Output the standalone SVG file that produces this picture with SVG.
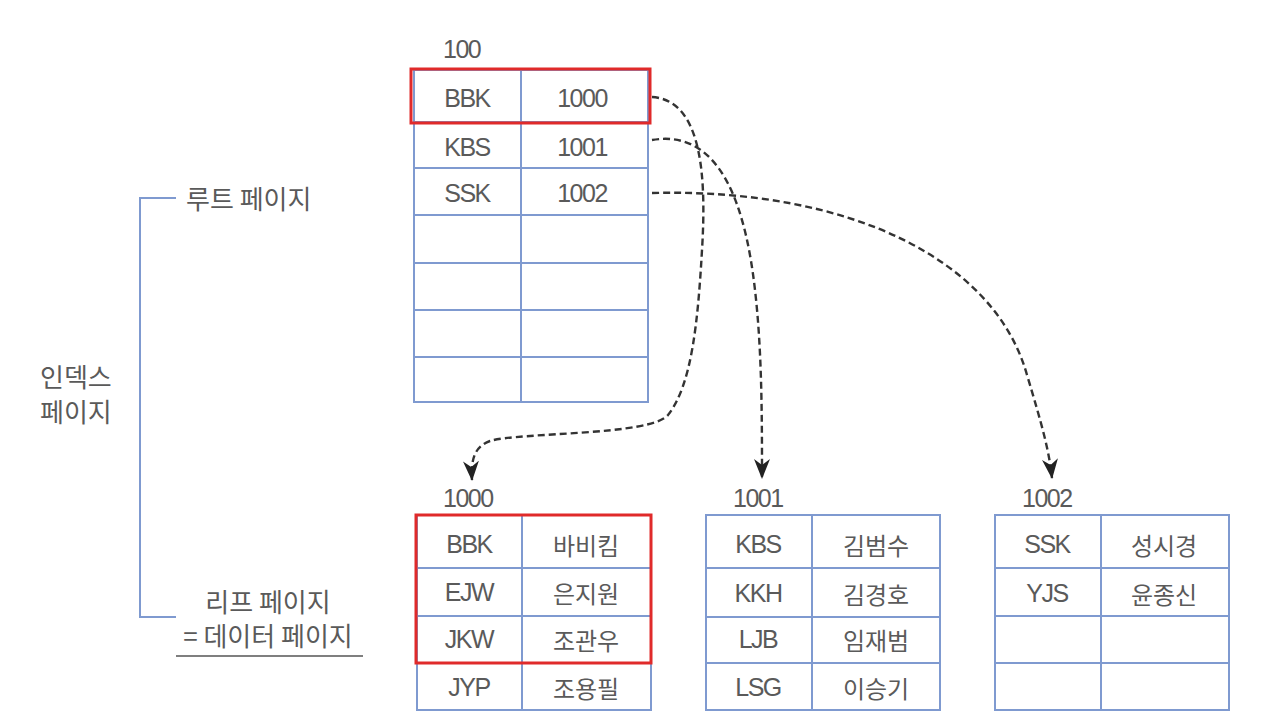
<svg xmlns="http://www.w3.org/2000/svg" width="1270" height="724" viewBox="0 0 1270 724">
<style>
.grid{fill:none;stroke:#7f9ad0;stroke-width:2}
.hl{fill:none;stroke:#e02a2a;stroke-width:3}
.t{font-family:"Liberation Sans","Noto Sans CJK KR",sans-serif;font-size:25px;fill:#5a5a5a;text-anchor:middle;dominant-baseline:central;letter-spacing:-1.5px}
.k{font-family:"Noto Sans CJK KR",sans-serif;font-size:24px;fill:#5a5a5a;text-anchor:middle;dominant-baseline:central}
.lab{font-family:"Liberation Sans","Noto Sans CJK KR",sans-serif;font-size:25px;fill:#5a5a5a;letter-spacing:-1.5px}
.kl{font-family:"Noto Sans CJK KR",sans-serif;font-size:26px;fill:#5a5a5a}
.conn{fill:none;stroke:#333;stroke-width:2.4;stroke-dasharray:7 4}
.br{fill:none;stroke:#7f9ad0;stroke-width:2}
</style>
<defs>
<marker id="ah" viewBox="0 0 20 16" refX="19" refY="8" markerWidth="20" markerHeight="16" markerUnits="userSpaceOnUse" orient="auto">
<path d="M0,0 L20,8 L0,16 L6,8 Z" fill="#222"/>
</marker>
</defs>
<rect width="1270" height="724" fill="#fff"/>

<g id="legend">
<path class="br" d="M176,198 H140 V617 H176"/>
<text class="kl" x="186" y="209">루트 페이지</text>
<text class="kl" x="40" y="387">인덱스</text>
<text class="kl" x="40" y="422">페이지</text>
<text class="kl" x="268" y="612" text-anchor="middle">리프 페이지</text>
<text class="kl" x="268" y="646" text-anchor="middle">= 데이터 페이지</text>
<line x1="176" y1="656" x2="363" y2="656" stroke="#555" stroke-width="1.5"/>
</g>

<g id="root">
<text class="lab" x="443" y="58">100</text>
<rect class="grid" x="414" y="70" width="234" height="332"/>
<path class="grid" d="M521,70 V402 M414,122 H648 M414,168 H648 M414,215 H648 M414,263 H648 M414,310 H648 M414,357 H648"/>
<rect class="hl" x="411" y="69" width="239" height="54"/>
<text class="t" x="467" y="98">BBK</text><text class="t" x="582" y="98">1000</text>
<text class="t" x="467" y="147">KBS</text><text class="t" x="582" y="147">1001</text>
<text class="t" x="467" y="193">SSK</text><text class="t" x="582" y="193">1002</text>
</g>

<g id="leaf1000">
<text class="lab" x="443" y="507">1000</text>
<rect class="grid" x="417" y="515" width="234" height="195"/>
<path class="grid" d="M522,515 V710 M417,568 H651 M417,616 H651 M417,663 H651"/>
<rect class="hl" x="416" y="515" width="235" height="148"/>
<text class="t" x="469" y="544">BBK</text><text class="k" x="586" y="544">바비킴</text>
<text class="t" x="469" y="592">EJW</text><text class="k" x="586" y="592">은지원</text>
<text class="t" x="469" y="639">JKW</text><text class="k" x="586" y="639">조관우</text>
<text class="t" x="469" y="687">JYP</text><text class="k" x="586" y="687">조용필</text>
</g>

<g id="leaf1001">
<text class="lab" x="733" y="507">1001</text>
<rect class="grid" x="706" y="515" width="234" height="195"/>
<path class="grid" d="M812,515 V710 M706,568 H940 M706,617 H940 M706,663 H940"/>
<text class="t" x="758" y="544">KBS</text><text class="k" x="876" y="544">김범수</text>
<text class="t" x="758" y="593">KKH</text><text class="k" x="876" y="593">김경호</text>
<text class="t" x="758" y="639">LJB</text><text class="k" x="876" y="639">임재범</text>
<text class="t" x="758" y="687">LSG</text><text class="k" x="876" y="687">이승기</text>
</g>

<g id="leaf1002">
<text class="lab" x="1022" y="507">1002</text>
<rect class="grid" x="995" y="515" width="234" height="195"/>
<path class="grid" d="M1101,515 V710 M995,568 H1229 M995,616 H1229 M995,663 H1229"/>
<text class="t" x="1047" y="544">SSK</text><text class="k" x="1164" y="544">성시경</text>
<text class="t" x="1047" y="593">YJS</text><text class="k" x="1164" y="593">윤종신</text>
</g>

<g id="connectors">
<path class="conn" marker-end="url(#ah)" d="M652,97 C700,100 707,170 702,250 C698,320 692,385 668,415 C650,436 520,432 490,441 C473,447 471,462 472,480"/>
<path class="conn" marker-end="url(#ah)" d="M652,140 C722,128 746,210 755,290 C762,350 762,420 762,478"/>
<path class="conn" marker-end="url(#ah)" d="M652,193 C850,188 995,260 1027,375 C1042,425 1049,450 1052,478"/>
</g>
</svg>
